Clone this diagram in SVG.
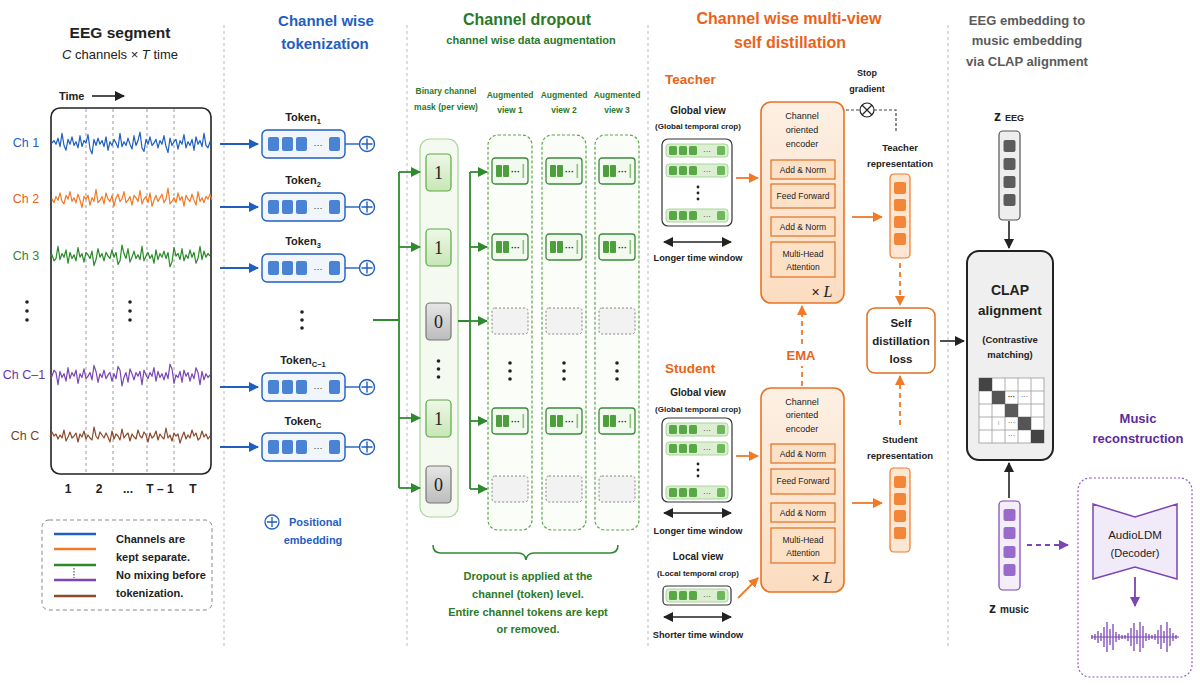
<svg xmlns="http://www.w3.org/2000/svg" width="1200" height="685" viewBox="0 0 1200 685">
<style>
text{font-family:"Liberation Sans",Arial,sans-serif;fill:#222}
.b{font-weight:bold}
.mid{text-anchor:middle}
.div{stroke:#bbb;stroke-width:1;stroke-dasharray:3,3;fill:none}
.blue{fill:#1f5fbf}
.grn{fill:#2a7a2a}
.org{fill:#ea6318}
.pur{fill:#5b2c9a}
.gray{fill:#5a5a5a}
.encbox{fill:#fde1c6;stroke:#e07020;stroke-width:1.2}
.enc{fill:url(#encg);stroke:#e87324;stroke-width:1.6}
.gl{stroke:#2f8a2f;stroke-width:1.8;fill:none}
.ol{stroke:#f07a28;stroke-width:1.8;fill:none}
.od{stroke:#f07a28;stroke-width:1.8;fill:none;stroke-dasharray:5,4}
.kl{stroke:#222;stroke-width:1.6;fill:none}
.aug{fill:#fbfdf9;stroke:#5aa845;stroke-width:1.2;stroke-dasharray:3,2}
.wv{fill:none;stroke-width:1.2;stroke-linejoin:round}
.sq{fill:#f2873a}
.cell{fill:#fff;stroke:#999;stroke-width:0.8}
</style>
<defs>
<linearGradient id="encg" x1="0" y1="0" x2="0" y2="1"><stop offset="0" stop-color="#fdf0e4"/><stop offset="1" stop-color="#fbdcc0"/></linearGradient>
<linearGradient id="g1" x1="0" y1="0" x2="0" y2="1"><stop offset="0" stop-color="#eef8e8"/><stop offset="1" stop-color="#c8e6b5"/></linearGradient>
<linearGradient id="g0" x1="0" y1="0" x2="0" y2="1"><stop offset="0" stop-color="#e6e6e6"/><stop offset="1" stop-color="#bcbcbc"/></linearGradient>
<marker id="ab" viewBox="0 0 10 10" refX="9" refY="5" markerWidth="10" markerHeight="10" markerUnits="userSpaceOnUse" orient="auto"><path d="M0,0L10,5L0,10z" fill="#1f5fbf"/></marker>
<marker id="ag" viewBox="0 0 10 10" refX="9" refY="5" markerWidth="10" markerHeight="10" markerUnits="userSpaceOnUse" orient="auto"><path d="M0,0L10,5L0,10z" fill="#2f8a2f"/></marker>
<marker id="ao" viewBox="0 0 10 10" refX="9" refY="5" markerWidth="10" markerHeight="10" markerUnits="userSpaceOnUse" orient="auto"><path d="M0,0L10,5L0,10z" fill="#f07a28"/></marker>
<marker id="ak" viewBox="0 0 10 10" refX="9" refY="5" markerWidth="10" markerHeight="10" markerUnits="userSpaceOnUse" orient="auto-start-reverse"><path d="M0,0L10,5L0,10z" fill="#222"/></marker>
<marker id="ap" viewBox="0 0 10 10" refX="9" refY="5" markerWidth="10" markerHeight="10" markerUnits="userSpaceOnUse" orient="auto"><path d="M0,0L10,5L0,10z" fill="#7b45b5"/></marker>
<path id="wave" d="M0,0 L2,-2 L4,1 L6,-4 L8,3 L10,-8 L12,2 L14,6 L16,-3 L18,1 L20,-5 L22,2 L24,-1 L26,4 L28,-6 L30,3 L32,-2 L34,0 L36,-7 L38,5 L40,9 L42,-3 L44,2 L46,-4 L48,1 L50,-2 L52,3 L54,-5 L56,6 L58,-1 L60,2 L62,-3 L64,0 L66,4 L68,-8 L70,3 L72,-1 L74,2 L76,-4 L78,1 L80,5 L82,-6 L84,2 L86,-2 L88,-9 L90,4 L92,7 L94,-3 L96,1 L98,-5 L100,2 L102,0 L104,-3 L106,4 L108,-2 L110,1 L112,-6 L114,3 L116,8 L118,-4 L120,2 L122,-1 L124,-3 L126,5 L128,-2 L130,1 L132,-7 L134,4 L136,-1 L138,2 L140,-3 L142,6 L144,-5 L146,1 L148,-2 L150,3 L152,-8 L154,2 L156,4 L158,-1 L160,0"/>
<path id="wave2" d="M0,0 L2,3 L4,-2 L6,1 L8,-5 L10,2 L12,4 L14,-3 L16,0 L18,-6 L20,2 L22,-1 L24,3 L26,-4 L28,1 L30,7 L32,-2 L34,0 L36,-3 L38,5 L40,-1 L42,2 L44,-8 L46,3 L48,1 L50,-2 L52,4 L54,-5 L56,0 L58,2 L60,-3 L62,6 L64,-1 L66,-4 L68,2 L70,0 L72,-6 L74,3 L76,1 L78,-2 L80,5 L82,-3 L84,-1 L86,2 L88,-7 L90,4 L92,0 L94,-2 L96,3 L98,-5 L100,6 L102,1 L104,-3 L106,2 L108,-1 L110,-4 L112,3 L114,0 L116,-9 L118,4 L120,2 L122,-1 L124,3 L126,-5 L128,1 L130,-2 L132,6 L134,-3 L136,0 L138,2 L140,-4 L142,1 L144,5 L146,-6 L148,2 L150,-1 L152,3 L154,-2 L156,0 L158,-4 L160,1"/>
<g id="tok"><rect x="0" y="0" width="83" height="28" rx="5" fill="#f1f6fd" stroke="#1f5fbf" stroke-width="1.4"/><rect x="6" y="7" width="11" height="14" rx="2" fill="#4a83d3"/><rect x="20" y="7" width="11" height="14" rx="2" fill="#4a83d3"/><rect x="34" y="7" width="11" height="14" rx="2" fill="#4a83d3"/><text x="56" y="18" font-size="9" text-anchor="middle">···</text><rect x="67" y="7" width="11" height="14" rx="2" fill="#4a83d3"/></g>
<g id="augt"><rect x="0" y="0" width="36" height="26" rx="3" fill="#f2f9ee" stroke="#3a8a3a" stroke-width="1.3"/><rect x="4" y="7" width="6" height="12" rx="1" fill="#4e9e3e"/><rect x="11" y="7" width="6" height="12" rx="1" fill="#4e9e3e"/><text x="23.5" y="17" font-size="9" font-weight="bold" text-anchor="middle">···</text><rect x="30.5" y="6" width="1.6" height="14" fill="#8cc47c"/></g>
<g id="auge"><rect x="0" y="0" width="36" height="26" rx="3" fill="#f2f2f2" stroke="#888" stroke-width="1" stroke-dasharray="2,2"/></g>
<g id="grow"><rect x="0" y="0" width="62" height="13" rx="3" fill="#dcefd2" stroke="#a9d69a" stroke-width="1"/><rect x="3" y="2" width="8" height="9" rx="1.5" fill="#58a845"/><rect x="13" y="2" width="8" height="9" rx="1.5" fill="#58a845"/><rect x="23" y="2" width="8" height="9" rx="1.5" fill="#58a845"/><text x="41" y="10" font-size="8" text-anchor="middle">···</text><rect x="51" y="2" width="8" height="9" rx="1.5" fill="#6db85a"/></g>
<g id="orep"><rect x="0" y="0" width="20" height="84" rx="4" fill="#fde6d2" stroke="#f07a28" stroke-width="1.2"/><rect x="4" y="8" width="12" height="12" rx="2" class="sq"/><rect x="4" y="25" width="12" height="12" rx="2" class="sq"/><rect x="4" y="42" width="12" height="12" rx="2" class="sq"/><rect x="4" y="59" width="12" height="12" rx="2" class="sq"/></g>
</defs>
<rect width="1200" height="685" fill="#ffffff"/>

<!-- section dividers -->
<g id="dividers">
<line class="div" x1="224" y1="25" x2="224" y2="648"/>
<line class="div" x1="407" y1="25" x2="407" y2="648"/>
<line class="div" x1="648" y1="25" x2="648" y2="648"/>
<line class="div" x1="948" y1="25" x2="948" y2="648"/>
</g>

<!-- EEG segment -->
<g id="eeg-segment">
<text x="120" y="38" class="b mid" font-size="15.5">EEG segment</text>
<text x="120" y="59" class="mid" font-size="13"><tspan font-style="italic">C</tspan> channels × <tspan font-style="italic">T</tspan> time</text>
<text x="59" y="100" class="b" font-size="11">Time</text>
<line x1="92" y1="96" x2="124" y2="96" stroke="#222" stroke-width="1.6" marker-end="url(#ak)"/>
<rect x="51" y="108" width="160" height="366" rx="9" fill="#fff" stroke="#222" stroke-width="1.6"/>
<g stroke="#9a9a9a" stroke-width="1" stroke-dasharray="3,3">
<line x1="86" y1="109" x2="86" y2="473"/><line x1="113" y1="109" x2="113" y2="473"/><line x1="147" y1="109" x2="147" y2="473"/><line x1="174" y1="109" x2="174" y2="473"/>
</g>
<use href="#wave" class="wv" stroke="#1f5fbf" transform="translate(52,143) scale(1,1.2)"/>
<use href="#wave2" class="wv" stroke="#f07a28" transform="translate(52,199) scale(1,1.2)"/>
<use href="#wave" class="wv" stroke="#2a8a2a" transform="translate(210,256) scale(-1,1.2)"/>
<use href="#wave" class="wv" stroke="#7b45b5" transform="translate(210,375) scale(-1,-1.2)"/>
<use href="#wave2" class="wv" stroke="#8b4a2b" transform="translate(210,436) scale(-1,1)"/>
<text x="26" y="147" class="mid" font-size="12.5" style="fill:#1f5fbf">Ch 1</text>
<text x="26" y="203" class="mid" font-size="12.5" style="fill:#e8641a">Ch 2</text>
<text x="26" y="260" class="mid" font-size="12.5" style="fill:#2a8a2a">Ch 3</text>
<text x="24" y="379" class="mid" font-size="12.5" style="fill:#6a35a5">Ch C–1</text>
<text x="25" y="440" class="mid" font-size="12.5" style="fill:#7a3f22">Ch C</text>
<g fill="#222"><circle cx="27" cy="302" r="1.8"/><circle cx="27" cy="311" r="1.8"/><circle cx="27" cy="320" r="1.8"/><circle cx="130" cy="302" r="1.8"/><circle cx="130" cy="311" r="1.8"/><circle cx="130" cy="320" r="1.8"/></g>
<text x="68" y="493" class="mid b" font-size="12">1</text>
<text x="99" y="493" class="mid b" font-size="12">2</text>
<text x="128" y="493" class="mid b" font-size="12">...</text>
<text x="160" y="493" class="mid b" font-size="12">T – 1</text>
<text x="193" y="493" class="mid b" font-size="12">T</text>
</g>

<g id="legend">
<rect x="42" y="520" width="170" height="90" rx="7" fill="none" stroke="#888" stroke-width="1" stroke-dasharray="4,3"/>
<g stroke-width="2.4"><line x1="54" y1="534" x2="96" y2="534" stroke="#1f5fbf"/><line x1="54" y1="549" x2="96" y2="549" stroke="#f07a28"/><line x1="54" y1="565" x2="96" y2="565" stroke="#2a8a2a"/><line x1="54" y1="580" x2="96" y2="580" stroke="#7b45b5"/><line x1="54" y1="596" x2="96" y2="596" stroke="#8b4a2b"/></g>
<line x1="74" y1="568" x2="74" y2="578" stroke="#333" stroke-width="1" stroke-dasharray="1.5,1.5"/>
<text x="116" y="543" class="b" font-size="11">Channels are</text>
<text x="116" y="561" class="b" font-size="11">kept separate.</text>
<text x="116" y="579" class="b" font-size="11">No mixing before</text>
<text x="116" y="597" class="b" font-size="11">tokenization.</text>
</g>

<!-- Tokenization -->
<g id="tokenization-title">
<text x="326" y="26" class="b mid blue" font-size="15">Channel wise</text>
<text x="325" y="49" class="b mid blue" font-size="15">tokenization</text>
</g>
<g id="token-1"><text x="303" y="121" class="b mid" font-size="11">Token<tspan dy="3" font-size="7.5">1</tspan></text><use href="#tok" x="262" y="130"/></g>
<g id="token-2"><text x="303" y="184" class="b mid" font-size="11">Token<tspan dy="3" font-size="7.5">2</tspan></text><use href="#tok" x="262" y="193"/></g>
<g id="token-3"><text x="303" y="245" class="b mid" font-size="11">Token<tspan dy="3" font-size="7.5">3</tspan></text><use href="#tok" x="262" y="254"/></g>
<g id="token-dots" fill="#222"><circle cx="302" cy="312" r="1.8"/><circle cx="302" cy="320" r="1.8"/><circle cx="302" cy="328" r="1.8"/></g>
<g id="token-c1"><text x="303" y="364" class="b mid" font-size="11">Token<tspan dy="3" font-size="7.5">C−1</tspan></text><use href="#tok" x="262" y="373"/></g>
<g id="token-c"><text x="303" y="425" class="b mid" font-size="11">Token<tspan dy="3" font-size="7.5">C</tspan></text><use href="#tok" x="262" y="433"/></g>
<g id="pos-embeds" stroke="#1f5fbf" stroke-width="1.4" fill="none">
<line x1="345" y1="144" x2="359.5" y2="144"/><circle cx="367" cy="144" r="7.5"/><path d="M367,138.5v11M361.5,144h11"/>
<line x1="345" y1="207" x2="359.5" y2="207"/><circle cx="367" cy="207" r="7.5"/><path d="M367,201.5v11M361.5,207h11"/>
<line x1="345" y1="268" x2="359.5" y2="268"/><circle cx="367" cy="268" r="7.5"/><path d="M367,262.5v11M361.5,268h11"/>
<line x1="345" y1="387" x2="359.5" y2="387"/><circle cx="367" cy="387" r="7.5"/><path d="M367,381.5v11M361.5,387h11"/>
<line x1="345" y1="447" x2="359.5" y2="447"/><circle cx="367" cy="447" r="7.5"/><path d="M367,441.5v11M361.5,447h11"/>
</g>
<g id="pos-legend">
<circle cx="272" cy="522" r="7" fill="none" stroke="#1f5fbf" stroke-width="1.3"/><path d="M272,517v10M267,522h10" stroke="#1f5fbf" stroke-width="1.3"/>
<text x="289" y="526" class="b blue" font-size="11">Positional</text>
<text x="313" y="544" class="b mid blue" font-size="11">embedding</text>
</g>

<!-- Channel dropout -->
<g id="dropout-title">
<text x="527" y="25" class="b mid grn" font-size="16">Channel dropout</text>
<text x="531" y="44" class="b mid grn" font-size="11">channel wise data  augmentation</text>
</g>
<g id="mask">
<text x="446" y="94" class="b mid grn" font-size="8.5">Binary channel</text>
<text x="446" y="110" class="b mid grn" font-size="8.5">mask (per view)</text>
<rect x="420" y="139" width="38" height="378" rx="10" fill="#f4faf0" stroke="#a8d49a" stroke-width="1.2"/>
<rect x="426" y="154" width="25" height="37" rx="4" fill="url(#g1)" stroke="#5aa845" stroke-width="1.2"/><text x="438.5" y="179" class="mid" style="font-family:'Liberation Serif',serif" font-size="18">1</text>
<rect x="426" y="229" width="25" height="37" rx="4" fill="url(#g1)" stroke="#5aa845" stroke-width="1.2"/><text x="438.5" y="254" class="mid" style="font-family:'Liberation Serif',serif" font-size="18">1</text>
<rect x="426" y="303" width="25" height="37" rx="4" fill="url(#g0)" stroke="#777" stroke-width="1.2"/><text x="438.5" y="328" class="mid" style="font-family:'Liberation Serif',serif" font-size="18">0</text>
<g fill="#222"><circle cx="438.5" cy="361" r="1.8"/><circle cx="438.5" cy="369" r="1.8"/><circle cx="438.5" cy="377" r="1.8"/></g>
<rect x="426" y="400" width="25" height="37" rx="4" fill="url(#g1)" stroke="#5aa845" stroke-width="1.2"/><text x="438.5" y="425" class="mid" style="font-family:'Liberation Serif',serif" font-size="18">1</text>
<rect x="426" y="466" width="25" height="37" rx="4" fill="url(#g0)" stroke="#777" stroke-width="1.2"/><text x="438.5" y="491" class="mid" style="font-family:'Liberation Serif',serif" font-size="18">0</text>
</g>
<g id="aug-view-1">
<text x="510" y="98" class="b mid grn" font-size="8.5">Augmented</text>
<text x="510" y="113" class="b mid grn" font-size="8.5">view 1</text>
<rect x="488" y="135" width="44" height="395" rx="10" class="aug"/>
<use href="#augt" x="492" y="158"/><use href="#augt" x="492" y="234"/><use href="#auge" x="492" y="308"/>
<g fill="#222"><circle cx="510" cy="363" r="1.8"/><circle cx="510" cy="371" r="1.8"/><circle cx="510" cy="379" r="1.8"/></g>
<use href="#augt" x="492" y="408"/><use href="#auge" x="492" y="476"/>
</g>
<g id="aug-view-2">
<text x="564" y="98" class="b mid grn" font-size="8.5">Augmented</text>
<text x="564" y="113" class="b mid grn" font-size="8.5">view 2</text>
<rect x="542" y="135" width="44" height="395" rx="10" class="aug"/>
<use href="#augt" x="546" y="158"/><use href="#augt" x="546" y="234"/><use href="#auge" x="546" y="308"/>
<g fill="#222"><circle cx="564" cy="363" r="1.8"/><circle cx="564" cy="371" r="1.8"/><circle cx="564" cy="379" r="1.8"/></g>
<use href="#augt" x="546" y="408"/><use href="#auge" x="546" y="476"/>
</g>
<g id="aug-view-3">
<text x="617" y="98" class="b mid grn" font-size="8.5">Augmented</text>
<text x="617" y="113" class="b mid grn" font-size="8.5">view 3</text>
<rect x="595" y="135" width="44" height="395" rx="10" class="aug"/>
<use href="#augt" x="599" y="158"/><use href="#augt" x="599" y="234"/><use href="#auge" x="599" y="308"/>
<g fill="#222"><circle cx="617" cy="363" r="1.8"/><circle cx="617" cy="371" r="1.8"/><circle cx="617" cy="379" r="1.8"/></g>
<use href="#augt" x="599" y="408"/><use href="#auge" x="599" y="476"/>
</g>
<g id="dropout-note">
<path d="M433,545 Q433,553 441,553 L518,553 Q525,553 526,560 Q527,553 534,553 L610,553 Q618,553 618,545" fill="none" stroke="#2f8a2f" stroke-width="1.6"/>
<text x="528" y="580" class="b mid grn" font-size="11">Dropout is applied at the</text>
<text x="528" y="598" class="b mid grn" font-size="11">channel (token) level.</text>
<text x="528" y="616" class="b mid grn" font-size="11">Entire channel tokens are kept</text>
<text x="528" y="633" class="b mid grn" font-size="11">or removed.</text>
</g>

<!-- Distillation -->
<g id="distill-title">
<text x="789" y="24" class="b mid org" font-size="16">Channel wise multi-view</text>
<text x="790" y="48" class="b mid org" font-size="16">self distillation</text>
</g>
<g id="teacher-view">
<text x="665" y="84" class="b org" font-size="13.5">Teacher</text>
<text x="698" y="114" class="b mid" font-size="10">Global view</text>
<text x="698" y="129" class="b mid" font-size="8">(Global temporal crop)</text>
<rect x="662" y="139" width="70" height="87" rx="6" fill="#fff" stroke="#333" stroke-width="1.2"/>
<use href="#grow" x="666" y="144"/><use href="#grow" x="666" y="164"/><use href="#grow" x="666" y="209"/>
<g fill="#222"><circle cx="698" cy="187" r="1.4"/><circle cx="698" cy="193" r="1.4"/><circle cx="698" cy="199" r="1.4"/></g>
<line x1="664" y1="242" x2="731" y2="242" stroke="#222" stroke-width="1.6" marker-start="url(#ak)" marker-end="url(#ak)"/>
<text x="698" y="261" class="b mid" font-size="9.2">Longer time window</text>
</g>
<g id="teacher-encoder">
<rect x="761" y="102" width="83" height="201" rx="10" class="enc"/>
<text x="802" y="119" class="mid" font-size="9">Channel</text>
<text x="802" y="133" class="mid" font-size="9">oriented</text>
<text x="802" y="147" class="mid" font-size="9">encoder</text>
<rect x="771" y="160" width="64" height="19" class="encbox"/><text x="803" y="173" class="mid" font-size="8.5">Add &amp; Norm</text>
<rect x="771" y="184" width="64" height="24" class="encbox"/><text x="803" y="199" class="mid" font-size="8.5">Feed Forward</text>
<rect x="771" y="217" width="64" height="19" class="encbox"/><text x="803" y="230" class="mid" font-size="8.5">Add &amp; Norm</text>
<rect x="771" y="242" width="64" height="35" class="encbox"/><text x="803" y="257" class="mid" font-size="8.5">Multi-Head</text><text x="803" y="270" class="mid" font-size="8.5">Attention</text>
<text x="822" y="297" class="mid" font-size="14">× <tspan font-style="italic" style="font-family:'Liberation Serif',serif" font-size="16">L</tspan></text>
</g>
<g id="stop-gradient">
<text x="867" y="76" class="b mid" font-size="9">Stop</text>
<text x="867" y="92" class="b mid" font-size="9">gradient</text>
<circle cx="867" cy="110" r="7" fill="#fff" stroke="#222" stroke-width="1.2"/>
<path d="M862,105l10,10M872,105l-10,10" stroke="#222" stroke-width="1.2"/>
</g>
<g id="teacher-rep">
<text x="900" y="151" class="b mid" font-size="9.5">Teacher</text>
<text x="900" y="167" class="b mid" font-size="9.5">representation</text>
<use href="#orep" x="890" y="174"/>
</g>
<g id="sd-loss">
<rect x="867" y="308" width="68" height="65" rx="8" fill="#fff" stroke="#e07020" stroke-width="1.5"/>
<text x="901" y="327" class="b mid" font-size="11.5">Self</text>
<text x="901" y="345" class="b mid" font-size="11.5">distillation</text>
<text x="901" y="363" class="b mid" font-size="11.5">loss</text>
</g>
<g id="ema"><text x="801" y="360" class="b mid org" font-size="13">EMA</text></g>
<g id="student-view">
<text x="665" y="373" class="b org" font-size="13.5">Student</text>
<text x="698" y="396" class="b mid" font-size="10">Global view</text>
<text x="698" y="412" class="b mid" font-size="8">(Global temporal crop)</text>
<rect x="662" y="418" width="70" height="84" rx="6" fill="#fff" stroke="#333" stroke-width="1.2"/>
<use href="#grow" x="666" y="423"/><use href="#grow" x="666" y="442"/><use href="#grow" x="666" y="486"/>
<g fill="#222"><circle cx="698" cy="464" r="1.4"/><circle cx="698" cy="470" r="1.4"/><circle cx="698" cy="476" r="1.4"/></g>
<line x1="664" y1="513" x2="731" y2="513" stroke="#222" stroke-width="1.6" marker-start="url(#ak)" marker-end="url(#ak)"/>
<text x="698" y="534" class="b mid" font-size="9.2">Longer time window</text>
</g>
<g id="student-local-view">
<text x="698" y="560" class="b mid" font-size="10">Local view</text>
<text x="698" y="576" class="b mid" font-size="8">(Local temporal crop)</text>
<rect x="663" y="586" width="68" height="19" rx="4" fill="#fff" stroke="#333" stroke-width="1.2"/>
<use href="#grow" x="666" y="589"/>
<line x1="664" y1="617" x2="731" y2="617" stroke="#222" stroke-width="1.6" marker-start="url(#ak)" marker-end="url(#ak)"/>
<text x="698" y="638" class="b mid" font-size="9.2">Shorter time window</text>
</g>
<g id="student-encoder">
<rect x="761" y="388" width="83" height="204" rx="10" class="enc"/>
<text x="802" y="405" class="mid" font-size="9">Channel</text>
<text x="802" y="418" class="mid" font-size="9">oriented</text>
<text x="802" y="432" class="mid" font-size="9">encoder</text>
<rect x="771" y="444" width="64" height="19" class="encbox"/><text x="803" y="457" class="mid" font-size="8.5">Add &amp; Norm</text>
<rect x="771" y="469" width="64" height="25" class="encbox"/><text x="803" y="484" class="mid" font-size="8.5">Feed Forward</text>
<rect x="771" y="503" width="64" height="19" class="encbox"/><text x="803" y="516" class="mid" font-size="8.5">Add &amp; Norm</text>
<rect x="771" y="528" width="64" height="35" class="encbox"/><text x="803" y="543" class="mid" font-size="8.5">Multi-Head</text><text x="803" y="556" class="mid" font-size="8.5">Attention</text>
<text x="822" y="583" class="mid" font-size="14">× <tspan font-style="italic" style="font-family:'Liberation Serif',serif" font-size="16">L</tspan></text>
</g>
<g id="student-rep">
<text x="900" y="443" class="b mid" font-size="9.5">Student</text>
<text x="900" y="459" class="b mid" font-size="9.5">representation</text>
<use href="#orep" x="890" y="468"/>
</g>

<!-- CLAP -->
<g id="clap-title">
<text x="1027" y="25" class="b mid gray" font-size="13">EEG embedding to</text>
<text x="1027" y="45" class="b mid gray" font-size="13">music embedding</text>
<text x="1027" y="66" class="b mid gray" font-size="13">via CLAP alignment</text>
</g>
<g id="z-eeg">
<text x="1009" y="121" class="b mid" font-size="14">z <tspan font-size="9">EEG</tspan></text>
<rect x="999" y="131" width="21" height="89" rx="4" fill="#eeeeee" stroke="#555" stroke-width="1.2"/>
<g fill="#5c5c5c"><rect x="1003.5" y="140" width="12" height="12" rx="2"/><rect x="1003.5" y="158" width="12" height="12" rx="2"/><rect x="1003.5" y="176" width="12" height="12" rx="2"/><rect x="1003.5" y="194" width="12" height="12" rx="2"/></g>
</g>
<g id="clap">
<rect x="967" y="251" width="86" height="209" rx="12" fill="#efefef" stroke="#222" stroke-width="2"/>
<text x="1010" y="295" class="b mid" font-size="14">CLAP</text>
<text x="1010" y="315" class="b mid" font-size="13.5">alignment</text>
<text x="1010" y="343" class="b mid" font-size="9.5">(Contrastive</text>
<text x="1010" y="358" class="b mid" font-size="9.5">matching)</text>
<g>
<rect x="979" y="378" width="65" height="65" class="cell"/>
<path d="M992,378v65M1005,378v65M1018,378v65M1031,378v65M979,391h65M979,404h65M979,417h65M979,430h65" stroke="#999" stroke-width="0.8" fill="none"/>
<rect x="979" y="378" width="13" height="13" fill="#444"/>
<rect x="992" y="391" width="13" height="13" fill="#555"/>
<rect x="1005" y="404" width="13" height="13" fill="#5a5a5a"/>
<rect x="1018" y="417" width="13" height="13" fill="#555"/>
<rect x="1031" y="430" width="13" height="13" fill="#444"/>
<text x="1011.5" y="399" class="mid b" font-size="7">···</text>
<text x="1024.5" y="399" class="mid" font-size="7">···</text>
<text x="998.5" y="425" class="mid" font-size="6">⁞</text>
<text x="1011.5" y="425" class="mid" font-size="7">···</text>
<text x="1011.5" y="438" class="mid" font-size="7">···</text>
</g>
</g>
<g id="z-music">
<rect x="999" y="501" width="21" height="89" rx="4" fill="#f4eefb" stroke="#7b45b5" stroke-width="1.2"/>
<g fill="#9a6acb"><rect x="1003.5" y="509" width="12" height="12" rx="2"/><rect x="1003.5" y="527" width="12" height="12" rx="2"/><rect x="1003.5" y="546" width="12" height="12" rx="2"/><rect x="1003.5" y="564" width="12" height="12" rx="2"/></g>
<text x="1009" y="613" class="b mid" font-size="14">z <tspan font-size="10">music</tspan></text>
</g>
<g id="music-recon">
<text x="1138" y="423" class="b mid pur" font-size="13">Music</text>
<text x="1138" y="443" class="b mid pur" font-size="13">reconstruction</text>
<rect x="1078" y="478" width="114" height="199" rx="12" fill="none" stroke="#8a5cc0" stroke-width="1.2" stroke-dasharray="2,2"/>
<polygon points="1093,504 1135,517 1177,504 1177,579 1135,567 1093,579" fill="#f1eaf9" stroke="#7b45b5" stroke-width="1.5"/>
<text x="1135" y="539" class="mid" font-size="11.5">AudioLDM</text>
<text x="1135" y="557" class="mid" font-size="11">(Decoder)</text>
<line x1="1091" y1="637" x2="1179" y2="637" stroke="#7b45b5" stroke-width="1.2"/>
<path stroke="#7b45b5" stroke-width="1.3" fill="none" d="M1092,635v4M1095,634v6M1098,631v12M1101,633v8M1104,627v20M1107,622v30M1110,629v16M1113,624v26M1116,632v10M1119,634v6M1122,635v4M1125,635v4M1128,633v8M1131,628v18M1134,623v28M1137,630v14M1140,622v30M1143,626v22M1146,633v8M1149,634v6M1152,635v4M1155,634v6M1158,630v14M1161,625v24M1164,631v12M1167,622v30M1170,628v18M1173,633v8M1176,635v4"/>
</g>

<!-- connectors -->
<g id="connectors">
<g stroke="#1f5fbf" stroke-width="1.8" marker-end="url(#ab)">
<line x1="220" y1="144" x2="258" y2="144"/><line x1="220" y1="207" x2="258" y2="207"/><line x1="220" y1="268" x2="258" y2="268"/><line x1="220" y1="387" x2="258" y2="387"/><line x1="220" y1="447" x2="258" y2="447"/>
</g>
<path class="gl" d="M373,320H399M399,172V488M470,172V489M458,321H470"/>
<g class="gl" marker-end="url(#ag)">
<line x1="399" y1="172" x2="420" y2="172"/><line x1="399" y1="247" x2="420" y2="247"/><line x1="399" y1="418" x2="420" y2="418"/><line x1="399" y1="488" x2="420" y2="488"/>
<line x1="470" y1="172" x2="487" y2="172"/><line x1="470" y1="247" x2="487" y2="247"/><line x1="470" y1="321" x2="487" y2="321"/><line x1="470" y1="421" x2="487" y2="421"/><line x1="470" y1="489" x2="487" y2="489"/>
</g>
<g class="ol" marker-end="url(#ao)">
<line x1="736" y1="178" x2="758" y2="178"/>
<line x1="736" y1="456" x2="758" y2="456"/>
<line x1="738" y1="598" x2="758" y2="578"/>
<line x1="852" y1="217" x2="882" y2="217"/>
<line x1="852" y1="503" x2="882" y2="503"/>
</g>
<g class="od">
<line x1="900" y1="263" x2="900" y2="305" marker-end="url(#ao)"/>
<line x1="900" y1="425" x2="900" y2="376" marker-end="url(#ao)"/>
<line x1="802" y1="344" x2="802" y2="306" marker-end="url(#ao)"/>
<line x1="802" y1="386" x2="802" y2="366"/>
</g>
<path d="M846,110H860M874,110H896V133" fill="none" stroke="#444" stroke-width="1.2" stroke-dasharray="3,2"/>
<g class="kl" marker-end="url(#ak)">
<line x1="940" y1="341" x2="964" y2="341"/>
<line x1="1009" y1="221" x2="1009" y2="248"/>
<line x1="1009" y1="498" x2="1009" y2="463"/>
</g>
<line x1="1027" y1="545" x2="1068" y2="545" stroke="#7b45b5" stroke-width="1.8" stroke-dasharray="5,4" marker-end="url(#ap)"/>
<line x1="1135" y1="577" x2="1135" y2="606" stroke="#7b45b5" stroke-width="1.8" marker-end="url(#ap)"/>
</g>
</svg>
